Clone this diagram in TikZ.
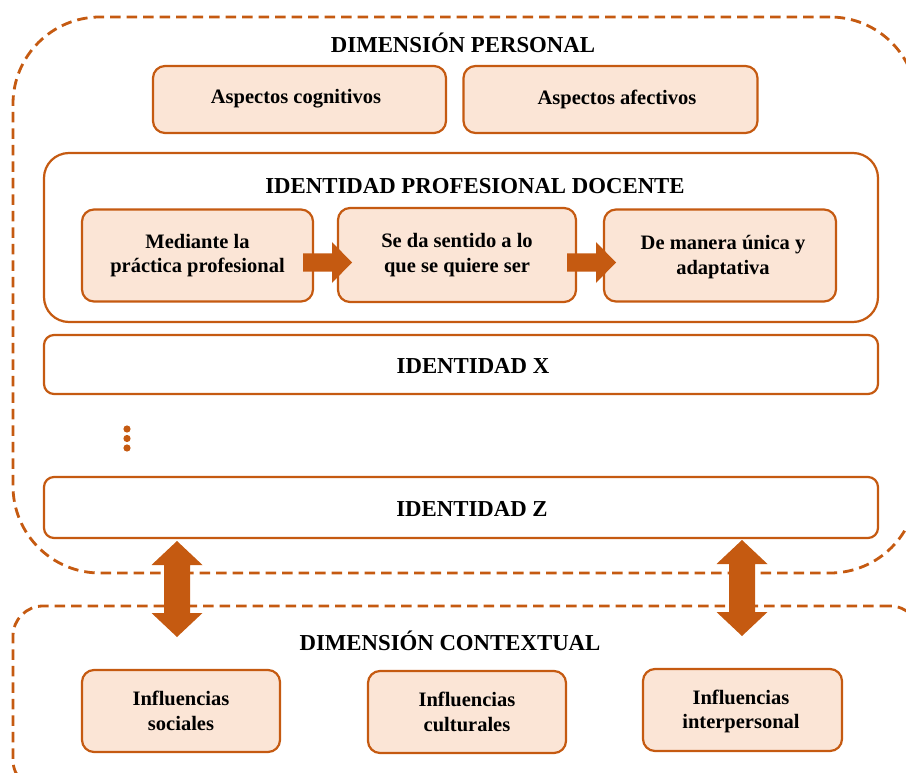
\documentclass[tikz,border=0pt]{standalone}
\usepackage{fontspec}
\setmainfont{Liberation Serif}
\begin{document}
\definecolor{accent}{HTML}{C55A11}
\definecolor{softfill}{HTML}{FBE5D6}
\begin{tikzpicture}[x=1pt,y=-1pt,
  bodyfont/.style={font=\bfseries\fontsize{20.5}{24.5}\selectfont},
  titlefont/.style={font=\bfseries\fontsize{22.8}{26}\selectfont},
  softbox/.style={draw=accent, fill=softfill, line width=2.2pt, rounded corners=12pt,
    align=center, inner sep=0pt, bodyfont},
  plainbox/.style={draw=accent, fill=white, line width=2.2pt, rounded corners=10pt,
    align=center, inner sep=0pt, titlefont},
  dashframe/.style={draw=accent, line width=2.8pt, dash pattern=on 10.5pt off 6pt},
  pics/rightarrow/.style={code={
    \fill[accent] (0,-9) -- (29,-9) -- (29,-20.5) -- (49,0) -- (29,20.5) -- (29,9) -- (0,9) -- cycle;}},
  pics/updown/.style={code={
    \fill[accent] (0,-48) -- (25.5,-24) -- (13,-24) -- (13,24) -- (25.5,24) -- (0,48)
      -- (-25.5,24) -- (-13,24) -- (-13,-24) -- (-25.5,-24) -- cycle;}}
]
\useasboundingbox (0,0) rectangle (906,773);
\clip (0,0) rectangle (906,773);

% dashed frames of the two dimensions
\node[dashframe, rounded corners=87pt, minimum width=904pt, minimum height=556pt] (pers) at (465,295) {};
\node[dashframe, rounded corners=30pt, minimum width=907pt, minimum height=184pt] (ctx) at (466.5,698) {};

% personal dimension
\node[titlefont] (perstitle) at (463,43) {DIMENSIÓN PERSONAL};
\node[softbox, minimum width=293pt, minimum height=67pt] (cog) at (299.5,99.5) {};
\node[bodyfont] (cogtext) at (296,98.5) {Aspectos cognitivos};
\node[softbox, minimum width=294pt, minimum height=67pt] (afe) at (610.5,99.5) {};
\node[bodyfont] (afetext) at (617,99.5) {Aspectos afectivos};

\node[plainbox, rounded corners=25pt, minimum width=834pt, minimum height=169pt] (ipd) at (461,237.5) {};
\node[titlefont] (ipdtitle) at (475,186) {IDENTIDAD PROFESIONAL DOCENTE};
\node[softbox, minimum width=231pt, minimum height=92pt] (med) at (197.5,255.5) {Mediante la\\práctica profesional};
\node[softbox, minimum width=238pt, minimum height=94pt] (sent) at (457,255) {Se da sentido a lo\\que se quiere ser};
\node[softbox, minimum width=232pt, minimum height=92pt] (unica) at (720,255.5) {};
\node[bodyfont, align=center] (unicatext) at (723,257) {De manera única y\\adaptativa};
\pic at (303,262.5) {rightarrow};
\pic at (567,262.5) {rightarrow};

\node[plainbox, minimum width=834pt, minimum height=59pt] (idx) at (461,364.5) {};
\node[titlefont] (idxtext) at (473,366) {IDENTIDAD X};
\fill[accent] (127,429) circle (3.6pt) (127,438.5) circle (3.6pt) (127,448) circle (3.6pt);
\node[plainbox, minimum width=834pt, minimum height=61pt] (idz) at (461,507.5) {};
\node[titlefont] (idztext) at (472,508.5) {IDENTIDAD Z};

% contextual dimension
\node[titlefont] (ctxtitle) at (450,641) {DIMENSIÓN CONTEXTUAL};
\node[softbox, minimum width=198pt, minimum height=82pt] (soc) at (181,711) {Influencias\\sociales};
\node[softbox, minimum width=198pt, minimum height=82pt] (cul) at (467,712) {Influencias\\culturales};
\node[softbox, minimum width=199pt, minimum height=82pt] (inter) at (742.5,710) {};
\node[bodyfont, align=center] (intertext) at (741,711.5) {Influencias\\interpersonal};

% links between the two dimensions
\pic at (177,589) {updown};
\pic at (742,588) {updown};
\end{tikzpicture}
\end{document}
